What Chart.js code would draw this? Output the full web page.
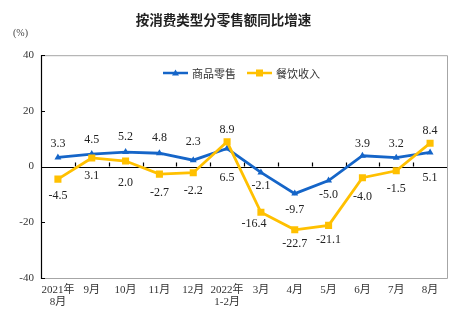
<!DOCTYPE html>
<html>
<head>
<meta charset="utf-8">
<script src="https://cdn.jsdelivr.net/npm/chart.js@4"></script>
<style>
  html, body { margin: 0; padding: 0; background: #fff; }
  canvas { display: block; }
</style>
</head>
<body>
<canvas id="chart" width="468" height="329"></canvas>
<script>
// categories and values
const months = [['2021年', '8月'], '9月', '10月', '11月', '12月', ['2022年', '1-2月'], '3月', '4月', '5月', '6月', '7月', '8月'];
const retailGoods = [3.3, 4.5, 5.2, 4.8, 2.3, 6.5, -2.1, -9.7, -5.0, 3.9, 3.2, 5.1];
const catering = [-4.5, 3.1, 2.0, -2.7, -2.2, 8.9, -16.4, -22.7, -21.1, -4.0, -1.5, 8.4];
const yTicks = [-40, -20, 0, 20, 40];

// where each value label sits relative to its point (px, +down)
const goodsLabelDy = [-14, -14, -15, -15, -18, 29, 13, 16, 14, -12, -14, 25];
const cateringLabelDy = [17, 18, 22, 19, 18, -12, 12, 14, 14, 19, 18, -12];
const cateringLabelDx = [0, 0, 0, 0, 0, 0, -7, 0, 0, 0, 0, 0];

const BLUE = '#1565c8';
const YELLOW = '#ffc000';
const SERIF = '"Liberation Serif", "Times New Roman", "Noto Sans CJK SC", serif';
const CJK = '"Noto Sans CJK SC", sans-serif';

const decor = {
  id: 'decor',
  beforeDatasetsDraw(chart) {
    const ctx = chart.ctx;
    const a = chart.chartArea;
    const x = chart.scales.x, y = chart.scales.y;
    const y0 = y.getPixelForValue(0);
    ctx.save();
    // grey frame (top, right, bottom)
    ctx.strokeStyle = '#a6a6a6';
    ctx.lineWidth = 1;
    ctx.beginPath();
    ctx.moveTo(a.left, a.top + 0.5);
    ctx.lineTo(a.right + 0.5, a.top + 0.5);
    ctx.lineTo(a.right + 0.5, a.bottom + 0.5);
    ctx.lineTo(a.left, a.bottom + 0.5);
    ctx.stroke();
    // black left axis and zero line
    ctx.strokeStyle = '#000';
    ctx.lineWidth = 1.2;
    ctx.beginPath();
    ctx.moveTo(a.left + 0.5, a.top);
    ctx.lineTo(a.left + 0.5, a.bottom + 1);
    ctx.moveTo(a.left, Math.round(y0) + 0.5);
    ctx.lineTo(a.right, Math.round(y0) + 0.5);
    ctx.stroke();
    // inward y tick marks
    ctx.beginPath();
    yTicks.forEach(v => {
      const py = Math.round(y.getPixelForValue(v)) + 0.5;
      ctx.moveTo(a.left, py);
      ctx.lineTo(a.left + 4, py);
    });
    // x tick marks between categories, on the zero line
    for (let i = 1; i < months.length; i++) {
      const px = Math.round((x.getPixelForValue(i - 1) + x.getPixelForValue(i)) / 2) + 0.5;
      ctx.moveTo(px, y0);
      ctx.lineTo(px, y0 - 4);
    }
    ctx.stroke();
    ctx.restore();
  },
  afterDraw(chart) {
    const ctx = chart.ctx;
    ctx.save();
    // unit
    ctx.fillStyle = '#444';
    ctx.font = '10px ' + SERIF;
    ctx.textAlign = 'left';
    ctx.textBaseline = 'middle';
    ctx.fillText('(%)', 13, 33);

    // value labels
    ctx.fillStyle = '#222';
    ctx.font = '12px ' + SERIF;
    ctx.textAlign = 'center';
    const gMeta = chart.getDatasetMeta(1);
    const cMeta = chart.getDatasetMeta(0);
    retailGoods.forEach((v, i) => {
      const p = gMeta.data[i];
      ctx.fillText(v.toFixed(1), p.x, p.y + goodsLabelDy[i]);
    });
    catering.forEach((v, i) => {
      const p = cMeta.data[i];
      ctx.fillText(v.toFixed(1), p.x + cateringLabelDx[i], p.y + cateringLabelDy[i]);
    });

    // legend inside the plot
    const ly = 73;
    const items = [
      { x: 163, color: BLUE, text: '商品零售', shape: 'tri' },
      { x: 247, color: YELLOW, text: '餐饮收入', shape: 'sq' }
    ];
    items.forEach(it => {
      ctx.strokeStyle = it.color;
      ctx.fillStyle = it.color;
      ctx.lineWidth = 2.5;
      ctx.beginPath();
      ctx.moveTo(it.x, ly);
      ctx.lineTo(it.x + 25, ly);
      ctx.stroke();
      const cx = it.x + 12.5;
      ctx.beginPath();
      if (it.shape === 'tri') {
        ctx.moveTo(cx, ly - 3.5);
        ctx.lineTo(cx + 3.5, ly + 2.5);
        ctx.lineTo(cx - 3.5, ly + 2.5);
        ctx.closePath();
        ctx.fill();
      } else {
        ctx.fillRect(cx - 3.5, ly - 3.5, 7, 7);
      }
      ctx.fillStyle = '#333';
      ctx.font = '11px ' + CJK;
      ctx.textAlign = 'left';
      ctx.fillText(it.text, it.x + 29, ly + 0.5);
    });
    ctx.restore();
  }
};

new Chart(document.getElementById('chart'), {
  type: 'line',
  data: {
    labels: months,
    datasets: [
      {
        label: '餐饮收入',
        data: catering,
        borderColor: YELLOW,
        backgroundColor: YELLOW,
        borderWidth: 2.8,
        pointStyle: 'rect',
        pointRadius: 5,
        pointBorderWidth: 0,
        tension: 0,
        order: 0
      },
      {
        label: '商品零售',
        data: retailGoods,
        borderColor: BLUE,
        backgroundColor: BLUE,
        borderWidth: 2.8,
        pointStyle: 'triangle',
        pointRadius: 4,
        pointBorderWidth: 0,
        tension: 0,
        order: 1
      }
    ]
  },
  options: {
    responsive: false,
    animation: false,
    events: [],
    layout: { padding: { left: 0, right: 21, top: 0, bottom: 0 } },
    plugins: {
      legend: { display: false },
      tooltip: { enabled: false },
      title: {
        display: true,
        text: '按消费类型分零售额同比增速',
        color: '#222',
        font: { family: CJK, size: 13.5, weight: '600' },
        padding: { top: 12, bottom: 27 }
      }
    },
    scales: {
      x: {
        offset: true,
        grid: { display: false, drawTicks: false },
        border: { display: false },
        ticks: {
          color: '#333',
          font: { family: SERIF, size: 11, lineHeight: 1.1 },
          padding: 6,
          maxRotation: 0,
          autoSkip: false
        },
        afterFit(scale) { scale.height = 51; }
      },
      y: {
        min: -40,
        max: 40,
        afterBuildTicks(scale) { scale.ticks = yTicks.map(v => ({ value: v })); },
        grid: { display: false, drawTicks: false },
        border: { display: false },
        ticks: {
          color: '#333',
          font: { family: SERIF, size: 11 },
          padding: 7
        },
        afterFit(scale) { scale.width = 41; }
      }
    }
  },
  plugins: [decor]
});
</script>
</body>
</html>
